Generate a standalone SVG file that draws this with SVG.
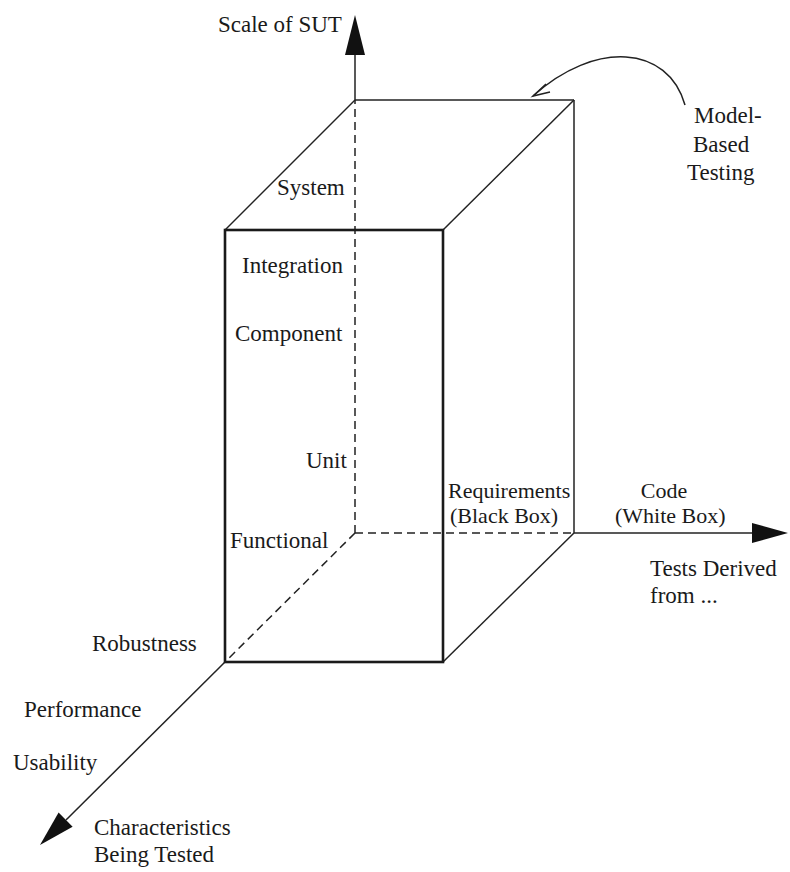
<svg xmlns="http://www.w3.org/2000/svg" width="790" height="872" viewBox="0 0 790 872">
<style>
  .t { font-family: "Liberation Serif", "Times New Roman", serif; font-size: 23px; fill: #1a1a1a; }
  .s { font-size: 22px; }
  .thin { stroke: #222; stroke-width: 1.5; fill: none; }
  .thick { stroke: #1a1a1a; stroke-width: 2.6; fill: none; }
  .dash { stroke: #222; stroke-width: 1.5; fill: none; stroke-dasharray: 8 5; }
  .head { fill: #111; stroke: none; }
</style>
<rect width="790" height="872" fill="#ffffff"/>
<g id="connectors">
  <line class="dash" x1="355" y1="533" x2="355" y2="100"/>
  <line class="thin" x1="355" y1="100" x2="355" y2="52"/>
  <polygon class="head" points="355,15 345,55 365,55"/>
  <line class="dash" x1="355" y1="533" x2="574" y2="533"/>
  <line class="thin" x1="574" y1="533" x2="754" y2="533"/>
  <polygon class="head" points="788,533 752,523 752,543"/>
  <line class="dash" x1="355" y1="533" x2="225" y2="662"/>
  <line class="thin" x1="225" y1="662" x2="66" y2="820"/>
  <polygon class="head" points="40,845 58.6,812.6 72.6,826.8"/>
  <path class="thin" d="M685,105 C668,45 595,40 533,96"/>
  <path class="thin" d="M546,84 L533,96 L550,92"/>
</g>
<g id="box">
  <line class="thin" x1="355" y1="100" x2="574" y2="100"/>
  <line class="thin" x1="574" y1="100" x2="574" y2="533"/>
  <line class="thin" x1="225" y1="230" x2="355" y2="100"/>
  <line class="thin" x1="443" y1="230" x2="574" y2="100"/>
  <line class="thin" x1="443" y1="662" x2="574" y2="533"/>
  <rect class="thick" x="225" y="230" width="218" height="432"/>
</g>
<g id="labels-scale">
  <text class="t" x="218" y="32">Scale of SUT</text>
  <text class="t" x="277" y="195">System</text>
  <text class="t" x="242" y="273">Integration</text>
  <text class="t" x="235" y="341">Component</text>
  <text class="t" x="306" y="468">Unit</text>
</g>
<g id="labels-tests">
  <text class="t s" x="448" y="498">Requirements</text>
  <text class="t s" x="450" y="523">(Black Box)</text>
  <text class="t s" x="664" y="498" text-anchor="middle">Code</text>
  <text class="t s" x="615" y="523">(White Box)</text>
  <text class="t" x="650" y="576">Tests Derived</text>
  <text class="t" x="650" y="603">from ...</text>
</g>
<g id="labels-characteristics">
  <text class="t" x="230" y="548">Functional</text>
  <text class="t" x="92" y="651">Robustness</text>
  <text class="t" x="24" y="717">Performance</text>
  <text class="t" x="13" y="770">Usability</text>
  <text class="t" x="94" y="835">Characteristics</text>
  <text class="t" x="94" y="862">Being Tested</text>
</g>
<g id="model-based">
  <text class="t" x="694" y="123">Model-</text>
  <text class="t" x="693" y="152">Based</text>
  <text class="t" x="687" y="180">Testing</text>
</g>
</svg>
